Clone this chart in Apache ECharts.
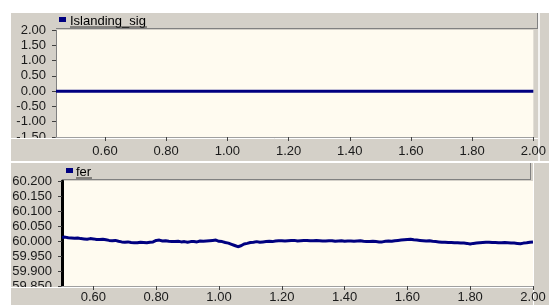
<!DOCTYPE html>
<html>
<head>
<meta charset="utf-8">
<script src="https://cdn.jsdelivr.net/npm/echarts@6/dist/echarts.min.js"></script>
<style>
  html, body { margin: 0; padding: 0; background: #fff; }
  #chart { width: 549px; height: 305px; }
</style>
</head>
<body>
<div id="chart"></div>
<script>
  // Islanding_sig panel
  const sigTimes = [0.44, 0.60, 0.80, 1.00, 1.20, 1.40, 1.60, 1.80, 2.00];
  const sigValues = [0, 0, 0, 0, 0, 0, 0, 0, 0];
  const sigTicks = [-1.5, -1.0, -0.5, 0, 0.5, 1.0, 1.5, 2.0];

  // fer panel (one value per 0.01)
  const ferTimes = [
    0.50, 0.51, 0.52, 0.53, 0.54, 0.55, 0.56, 0.57, 0.58, 0.59,
    0.60, 0.61, 0.62, 0.63, 0.64, 0.65, 0.66, 0.67, 0.68, 0.69,
    0.70, 0.71, 0.72, 0.73, 0.74, 0.75, 0.76, 0.77, 0.78, 0.79,
    0.80, 0.81, 0.82, 0.83, 0.84, 0.85, 0.86, 0.87, 0.88, 0.89,
    0.90, 0.91, 0.92, 0.93, 0.94, 0.95, 0.96, 0.97, 0.98, 0.99,
    1.00, 1.01, 1.02, 1.03, 1.04, 1.05, 1.06, 1.07, 1.08, 1.09,
    1.10, 1.11, 1.12, 1.13, 1.14, 1.15, 1.16, 1.17, 1.18, 1.19,
    1.20, 1.21, 1.22, 1.23, 1.24, 1.25, 1.26, 1.27, 1.28, 1.29,
    1.30, 1.31, 1.32, 1.33, 1.34, 1.35, 1.36, 1.37, 1.38, 1.39,
    1.40, 1.41, 1.42, 1.43, 1.44, 1.45, 1.46, 1.47, 1.48, 1.49,
    1.50, 1.51, 1.52, 1.53, 1.54, 1.55, 1.56, 1.57, 1.58, 1.59,
    1.60, 1.61, 1.62, 1.63, 1.64, 1.65, 1.66, 1.67, 1.68, 1.69,
    1.70, 1.71, 1.72, 1.73, 1.74, 1.75, 1.76, 1.77, 1.78, 1.79,
    1.80, 1.81, 1.82, 1.83, 1.84, 1.85, 1.86, 1.87, 1.88, 1.89,
    1.90, 1.91, 1.92, 1.93, 1.94, 1.95, 1.96, 1.97, 1.98, 1.99,
    2.00
  ];
  const ferValues = [
    60.012, 60.013, 60.011, 60.010, 60.009, 60.010, 60.008, 60.007, 60.006, 60.008,
    60.007, 60.005, 60.005, 60.006, 60.004, 60.002, 60.001, 60.002, 59.999, 59.997,
    59.996, 59.997, 59.995, 59.994, 59.994, 59.996, 59.995, 59.994, 59.996, 59.997,
    60.002, 60.003, 60.000, 60.001, 59.999, 59.998, 59.998, 59.999, 59.997, 59.998,
    59.996, 59.998, 59.998, 59.997, 60.000, 59.999, 60.000, 60.001, 60.002, 60.003,
    59.999, 59.998, 59.995, 59.993, 59.989, 59.985, 59.981, 59.984, 59.990, 59.992,
    59.995, 59.996, 59.998, 59.996, 59.997, 59.998, 59.999, 59.998, 60.000, 60.001,
    60.001, 60.000, 60.001, 60.002, 60.002, 60.000, 60.001, 60.002, 60.002, 60.001,
    60.001, 60.002, 60.001, 60.000, 60.000, 60.001, 60.001, 59.999, 60.000, 60.001,
    59.999, 60.000, 60.000, 59.999, 60.000, 60.001, 59.999, 59.998, 59.998, 59.999,
    59.998, 59.997, 59.997, 59.999, 60.000, 59.999, 60.001, 60.002, 60.003, 60.004,
    60.005, 60.006, 60.004, 60.003, 60.002, 60.001, 60.000, 60.001, 59.999, 59.998,
    59.997, 59.996, 59.996, 59.995, 59.995, 59.994, 59.994, 59.993, 59.993, 59.992,
    59.990, 59.992, 59.993, 59.994, 59.995, 59.996, 59.996, 59.995, 59.995, 59.994,
    59.994, 59.995, 59.994, 59.993, 59.993, 59.992, 59.991, 59.993, 59.994, 59.996,
    59.997
  ];
  const ferTicks = [59.85, 59.90, 59.95, 60.00, 60.05, 60.10, 60.15, 60.20];

  const timeTicks = [0.6, 0.8, 1.0, 1.2, 1.4, 1.6, 1.8, 2.0];

  const panelGray = '#d4d0c8';
  const plotCream = '#fffbf0';
  const navy = '#000080';
  const font = 'Liberation Sans, Arial, sans-serif';

  const chart = echarts.init(document.getElementById('chart'));

  function xAxisFor(gridIndex, min, labelMargin) {
    return {
      type: 'value', gridIndex: gridIndex, min: min, max: 2.0, z: 60,
      axisLine: { show: true, onZero: false, lineStyle: { color: '#a0a0a0', width: 1 } },
      axisTick: { show: true, length: 4, customValues: timeTicks, lineStyle: { color: '#404040' } },
      axisLabel: {
        customValues: timeTicks, margin: labelMargin, color: '#1a1a1a',
        fontFamily: font, fontSize: 13,
        formatter: function (v) { return v.toFixed(2); }
      },
      splitLine: { show: false }
    };
  }

  chart.setOption({
    animation: false,
    backgroundColor: '#ffffff',
    grid: [
      { left: 56, top: 30, width: 482, height: 107, show: true, backgroundColor: plotCream, borderWidth: 0 },
      { left: 62, top: 181, width: 471, height: 105, show: true, backgroundColor: plotCream, borderWidth: 0 }
    ],
    xAxis: [
      xAxisFor(0, 0.44, 8),
      xAxisFor(1, 0.50, 5)
    ],
    yAxis: [
      {
        type: 'value', gridIndex: 0, min: -1.5, max: 2.0,
        axisLine: { show: true, lineStyle: { color: '#808080', width: 1 } },
        axisTick: { show: true, length: 4, customValues: sigTicks, lineStyle: { color: '#404040' } },
        axisLabel: {
          customValues: sigTicks, margin: 10, color: '#1a1a1a', fontFamily: font, fontSize: 13,
          formatter: function (v) { return v.toFixed(2); }
        },
        splitLine: { show: false }
      },
      {
        type: 'value', gridIndex: 1, min: 59.85, max: 60.2,
        axisLine: { show: true, lineStyle: { color: '#000000', width: 3 } },
        axisTick: { show: true, length: 4, customValues: ferTicks, lineStyle: { color: '#404040' } },
        axisLabel: {
          customValues: ferTicks, margin: 10, color: '#1a1a1a', fontFamily: font, fontSize: 13,
          formatter: function (v) { return v.toFixed(3); }
        },
        splitLine: { show: false }
      }
    ],
    series: [
      {
        name: 'Islanding_sig', type: 'line', xAxisIndex: 0, yAxisIndex: 0,
        data: sigTimes.map(function (t, i) { return [t, sigValues[i]]; }),
        showSymbol: false, lineStyle: { color: navy, width: 3 }, z: 5
      },
      {
        name: 'fer', type: 'line', xAxisIndex: 1, yAxisIndex: 1,
        data: ferTimes.map(function (t, i) { return [t, ferValues[i]]; }),
        showSymbol: false, lineStyle: { color: navy, width: 3 }, z: 5
      }
    ],
    graphic: [
      // panel backgrounds
      { type: 'rect', z: -10, shape: { x: 11, y: 13, width: 538, height: 148 }, style: { fill: panelGray } },
      { type: 'rect', z: -10, shape: { x: 11, y: 163, width: 538, height: 142 }, style: { fill: panelGray } },

      // top panel: header bar
      { type: 'rect', z: 50, shape: { x: 56, y: 13, width: 482, height: 17 }, style: { fill: panelGray } },
      { type: 'line', z: 51, shape: { x1: 56, y1: 28.5, x2: 538, y2: 28.5 }, style: { stroke: '#808080', lineWidth: 1 } },
      { type: 'line', z: 51, shape: { x1: 537.5, y1: 13, x2: 537.5, y2: 29 }, style: { stroke: '#808080', lineWidth: 1 } },
      { type: 'line', z: 51, shape: { x1: 539, y1: 13, x2: 539, y2: 161 }, style: { stroke: '#ffffff', lineWidth: 1.5 } },
      { type: 'rect', z: 55, shape: { x: 59, y: 17, width: 7, height: 5 }, style: { fill: navy } },
      { type: 'text', z: 55, x: 70, y: 21, style: { text: 'Islanding_sig', fill: '#000', font: '13px ' + font, verticalAlign: 'middle' } },
      { type: 'line', z: 55, shape: { x1: 70, y1: 27, x2: 147, y2: 27 }, style: { stroke: '#303030', lineWidth: 1 } },
      // top panel: x band
      { type: 'rect', z: 50, shape: { x: 11, y: 138, width: 527, height: 23 }, style: { fill: panelGray } },
      { type: 'line', z: 51, shape: { x1: 11, y1: 138.5, x2: 538, y2: 138.5 }, style: { stroke: '#ffffff', lineWidth: 1 } },

      // bottom panel: header bar
      { type: 'rect', z: 50, shape: { x: 62, y: 163, width: 469, height: 17 }, style: { fill: panelGray } },
      { type: 'line', z: 51, shape: { x1: 62, y1: 179.5, x2: 531, y2: 179.5 }, style: { stroke: '#808080', lineWidth: 1 } },
      { type: 'line', z: 51, shape: { x1: 530.5, y1: 163, x2: 530.5, y2: 180 }, style: { stroke: '#808080', lineWidth: 1 } },
      { type: 'line', z: 51, shape: { x1: 533.5, y1: 163, x2: 533.5, y2: 305 }, style: { stroke: '#ffffff', lineWidth: 1 } },
      { type: 'rect', z: 55, shape: { x: 66, y: 168, width: 7, height: 5 }, style: { fill: navy } },
      { type: 'text', z: 55, x: 76, y: 172, style: { text: 'fer', fill: '#000', font: '13px ' + font, verticalAlign: 'middle' } },
      { type: 'line', z: 55, shape: { x1: 76, y1: 178, x2: 92, y2: 178 }, style: { stroke: '#303030', lineWidth: 1 } },
      // bottom panel: x band
      { type: 'rect', z: 50, shape: { x: 11, y: 287, width: 522, height: 18 }, style: { fill: panelGray } },
      { type: 'line', z: 51, shape: { x1: 11, y1: 287.5, x2: 533, y2: 287.5 }, style: { stroke: '#ffffff', lineWidth: 1 } }
    ]
  });
</script>
</body>
</html>
